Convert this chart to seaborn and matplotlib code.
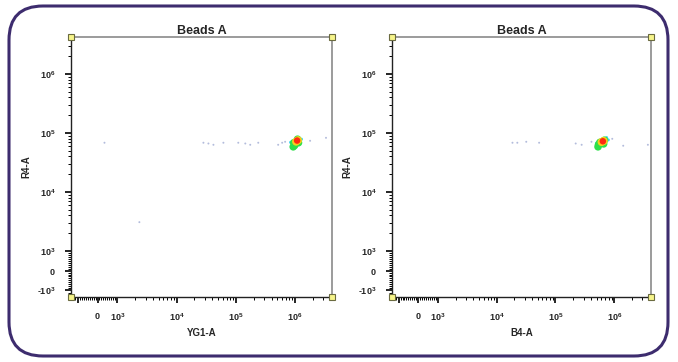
import numpy as np
import pandas as pd
import seaborn as sns
import matplotlib as mpl
import matplotlib.pyplot as plt
from matplotlib.patches import FancyBboxPatch
from matplotlib.ticker import FixedLocator, FixedFormatter

# events (x value, R4-A value, density level 0..4)
yg1_x = [353, 2360, 28400, 34500, 41900, 61700, 110000, 144500, 175000, 239000,
         518000, 605000, 679000, 1790000, 3320000,
         840000, 900000, 1280000,
         950000, 980000, 1100000, 1140000, 930000,
         1040000, 1120000,
         1080000]
yg1_y = [68000, 3070, 68000, 66000, 62800, 68000, 68000, 66000, 62800, 68000,
         62800, 68000, 70600, 73400, 82400,
         69000, 57000, 78000,
         68000, 61000, 78000, 68000, 58000,
         71000, 75000,
         74000]
yg1_level = [0] * 15 + [1] * 3 + [2] * 5 + [3] * 2 + [4]

b4_x = [18600, 22500, 31900, 52800, 221000, 279000, 410000, 925000, 1420000, 3730000,
        740000, 790000, 500000,
        540000, 570000, 660000, 530000, 680000,
        610000, 660000,
        640000]
b4_y = [68000, 68000, 70600, 68000, 66000, 62800, 70600, 79300, 60500, 62800,
        83000, 76000, 67000,
        63000, 69000, 65000, 58000, 75000,
        70000, 73000,
        72000]
b4_level = [0] * 10 + [1] * 3 + [2] * 5 + [3] * 2 + [4]

panels = [("YG1-A", yg1_x, yg1_y, yg1_level), ("B4-A", b4_x, b4_y, b4_level)]

level_colors = {0: "#b3bcdc", 1: "#3ad8f0", 2: "#2ee04a", 3: "#f5d01c", 4: "#ff2a10"}
level_sizes = {0: 2, 1: 5, 2: 30, 3: 34, 4: 22}

sns.set_style("ticks")
plt.rcParams["font.family"] = ["Liberation Sans", "DejaVu Sans"]
plt.rcParams["mathtext.fontset"] = "custom"
plt.rcParams["mathtext.bf"] = "Liberation Sans:bold"
plt.rcParams["mathtext.rm"] = "Liberation Sans:bold"

fig = plt.figure(figsize=(6.78, 3.62), dpi=100)
axes = [fig.add_axes([0.1047, 0.1796, 0.385, 0.718]),
        fig.add_axes([0.578, 0.1796, 0.382, 0.718])]

# biexponential-like display: linear around zero, log above 10^3
lo, hi = -1300, 4194304
major = [-1000, 0, 1000, 1e4, 1e5, 1e6]
minor = list(np.arange(-1300, 1001, 100))
for dec in [1e3, 1e4, 1e5, 1e6]:
    minor += [k * dec for k in range(2, 10) if k * dec < hi]
ylabels = ["-$\\mathbf{10^{3}}$", "$\\mathbf{0}$", "$\\mathbf{10^{3}}$",
           "$\\mathbf{10^{4}}$", "$\\mathbf{10^{5}}$", "$\\mathbf{10^{6}}$"]
xlabels = [""] + ylabels[1:]

for ax, (xname, xs, ys, lv) in zip(axes, panels):
    df = pd.DataFrame({"x": xs, "y": ys, "level": lv}).sort_values("level", kind="stable")
    sns.scatterplot(data=df, x="x", y="y", hue="level", size="level",
                    palette=level_colors, sizes=level_sizes, marker="o",
                    linewidth=0, legend=False, ax=ax, zorder=3)
    ax.set_xscale("symlog", linthresh=1000, linscale=0.3)
    ax.set_yscale("symlog", linthresh=1000, linscale=0.3)
    ax.set_xlim(lo, hi)
    ax.set_ylim(lo, hi)
    for axis, labs in [(ax.xaxis, xlabels), (ax.yaxis, ylabels)]:
        axis.set_major_locator(FixedLocator(major))
        axis.set_major_formatter(FixedFormatter(labs))
        axis.set_minor_locator(FixedLocator(minor))
    ax.tick_params(which="major", length=4, width=1.2, labelsize=6.5, color="black")
    ax.tick_params(which="minor", length=2, width=0.7, color="black")
    ax.tick_params(axis="x", which="major", pad=6)
    ax.tick_params(axis="y", which="major", pad=7)
    for label in ax.get_yticklabels() + ax.get_xticklabels():
        label.set_fontweight("bold")
    for side in ["left", "bottom"]:
        ax.spines[side].set_color("#222222")
        ax.spines[side].set_linewidth(1.0)
    for side in ["top", "right"]:
        ax.spines[side].set_visible(True)
        ax.spines[side].set_color("#8a8a8a")
        ax.spines[side].set_linewidth(1.2)
    ax.set_xlabel(xname, fontsize=7, fontweight="bold", labelpad=4)
    ax.set_ylabel("R4-A", fontsize=7, fontweight="bold", labelpad=4)
    ax.set_title("Beads A", fontsize=9, fontweight="bold", pad=2)
    # gate handles at the plot corners
    ax.plot([0, 1, 0, 1], [0, 0, 1, 1], transform=ax.transAxes, clip_on=False,
            marker="s", ms=5, ls="none", mfc="#f6f48a", mec="#6b6b40", mew=0.8, zorder=5)

frame = FancyBboxPatch((9, 6), 659, 350, boxstyle="round,pad=0,rounding_size=34",
                       transform=mpl.transforms.IdentityTransform(),
                       fill=False, edgecolor="#3d2c6e", linewidth=2.2)
fig.add_artist(frame)

fig.savefig("out.png", dpi=100)
